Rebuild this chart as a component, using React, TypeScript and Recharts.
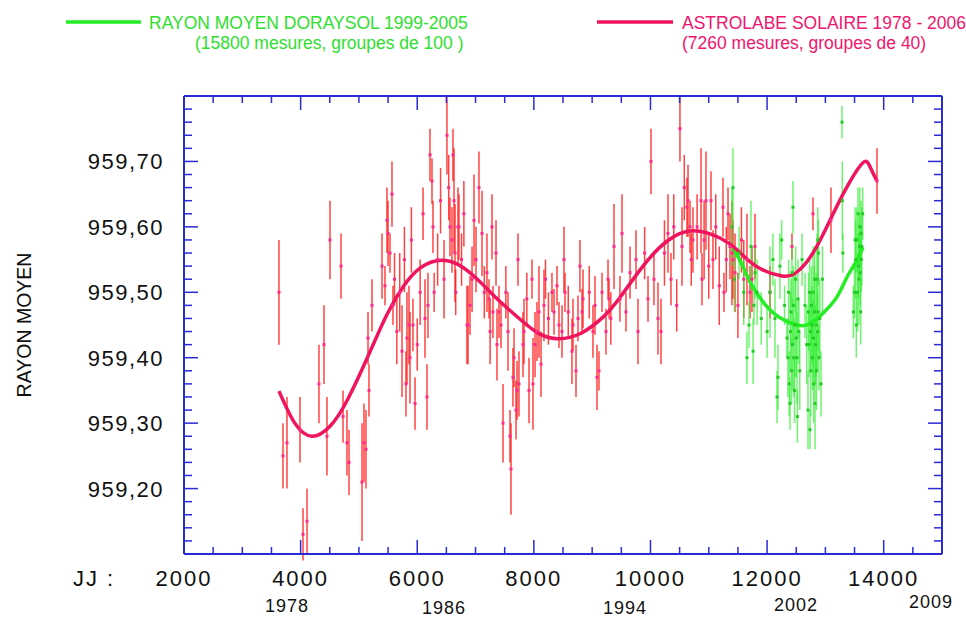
import React from 'react';
import { ComposedChart, Scatter, Line, XAxis, YAxis, ErrorBar } from 'recharts';

// ASTROLABE SOLAIRE 1978 - 2006 : [JJ, rayon moyen, demi-barre]
const astrolabe: [number, number, number][] = [
  [3629, 959.5, 0.08], [3698, 959.25, 0.05], [3766, 959.27, 0.07], [3989, 959.29, 0.05],
  [4041, 959.13, 0.04], [4110, 959.15, 0.05], [4315, 959.36, 0.06], [4401, 959.42, 0.06],
  [4452, 959.28, 0.06], [4504, 959.58, 0.06], [4693, 959.54, 0.05], [4727, 959.31, 0.04],
  [4795, 959.27, 0.05], [4830, 959.24, 0.05], [5053, 959.21, 0.09], [5087, 959.27, 0.06],
  [5121, 959.26, 0.06], [5156, 959.43, 0.04], [5173, 959.35, 0.04], [5224, 959.48, 0.04],
  [5396, 959.54, 0.05], [5447, 959.51, 0.03], [5481, 959.61, 0.05], [5499, 959.59, 0.05],
  [5533, 959.56, 0.03], [5567, 959.65, 0.05], [5584, 959.48, 0.03], [5610, 959.52, 0.04],
  [5650, 959.44, 0.05], [5700, 959.5, 0.06], [5739, 959.41, 0.07], [5780, 959.55, 0.05],
  [5807, 959.36, 0.05], [5824, 959.43, 0.07], [5859, 959.45, 0.06], [5876, 959.4, 0.07],
  [5900, 959.58, 0.05], [5927, 959.45, 0.04], [5962, 959.33, 0.04], [6000, 959.42, 0.04],
  [6050, 959.5, 0.05], [6100, 959.62, 0.04], [6133, 959.46, 0.06], [6167, 959.34, 0.05],
  [6185, 959.48, 0.05], [6219, 959.71, 0.04], [6253, 959.67, 0.035], [6270, 959.6, 0.04],
  [6290, 959.5, 0.03], [6350, 959.55, 0.04], [6400, 959.64, 0.05], [6460, 959.52, 0.06],
  [6510, 959.74, 0.06], [6540, 959.66, 0.05], [6562, 959.6, 0.045], [6596, 959.58, 0.05],
  [6613, 959.71, 0.04], [6631, 959.64, 0.08], [6648, 959.56, 0.075], [6660, 959.5, 0.035],
  [6699, 959.6, 0.06], [6716, 959.6, 0.05], [6760, 959.55, 0.04], [6800, 959.62, 0.05],
  [6853, 959.45, 0.06], [6871, 959.45, 0.06], [6905, 959.48, 0.045], [6940, 959.52, 0.05],
  [6974, 959.61, 0.07], [7008, 959.55, 0.05], [7059, 959.66, 0.055], [7111, 959.59, 0.065],
  [7150, 959.5, 0.04], [7196, 959.53, 0.06], [7231, 959.49, 0.03], [7250, 959.44, 0.05],
  [7282, 959.6, 0.05], [7299, 959.47, 0.04], [7351, 959.56, 0.05], [7368, 959.42, 0.055],
  [7402, 959.47, 0.04], [7437, 959.45, 0.035], [7471, 959.3, 0.06], [7520, 959.5, 0.04],
  [7557, 959.44, 0.06], [7591, 959.28, 0.04], [7608, 959.23, 0.07], [7642, 959.37, 0.045],
  [7660, 959.4, 0.045], [7694, 959.32, 0.045], [7711, 959.35, 0.045], [7728, 959.55, 0.04],
  [7745, 959.36, 0.05], [7814, 959.42, 0.05], [7831, 959.44, 0.05], [7880, 959.49, 0.04],
  [7917, 959.35, 0.05], [7968, 959.52, 0.03], [7985, 959.36, 0.07], [8020, 959.42, 0.05],
  [8054, 959.44, 0.045], [8088, 959.47, 0.07], [8123, 959.39, 0.05], [8174, 959.48, 0.055],
  [8200, 959.52, 0.03], [8250, 959.46, 0.04], [8311, 959.5, 0.03], [8346, 959.47, 0.035],
  [8397, 959.51, 0.03], [8431, 959.45, 0.035], [8483, 959.44, 0.04], [8517, 959.55, 0.05],
  [8534, 959.5, 0.03], [8590, 959.47, 0.04], [8654, 959.41, 0.05], [8671, 959.45, 0.04],
  [8723, 959.38, 0.04], [8757, 959.46, 0.035], [8791, 959.54, 0.04], [8826, 959.47, 0.035],
  [8843, 959.49, 0.045], [8950, 959.5, 0.04], [9014, 959.44, 0.04], [9049, 959.48, 0.045],
  [9083, 959.37, 0.05], [9117, 959.38, 0.03], [9169, 959.5, 0.03], [9237, 959.44, 0.035],
  [9272, 959.52, 0.03], [9289, 959.49, 0.03], [9320, 959.46, 0.04], [9375, 959.57, 0.065],
  [9477, 959.49, 0.035], [9512, 959.59, 0.06], [9580, 959.47, 0.03], [9650, 959.53, 0.04],
  [9752, 959.55, 0.045], [9786, 959.44, 0.05], [9900, 959.56, 0.04], [9958, 959.49, 0.035],
  [10009, 959.7, 0.05], [10060, 959.52, 0.04], [10129, 959.46, 0.055], [10181, 959.44, 0.05],
  [10240, 959.56, 0.05], [10301, 959.59, 0.06], [10352, 959.52, 0.04], [10400, 959.6, 0.05],
  [10450, 959.48, 0.04], [10506, 959.75, 0.05], [10541, 959.57, 0.06], [10580, 959.66, 0.05],
  [10626, 959.63, 0.045], [10644, 959.64, 0.055], [10678, 959.6, 0.04], [10700, 959.55, 0.04],
  [10729, 959.58, 0.05], [10800, 959.6, 0.05], [10867, 959.64, 0.08], [10884, 959.52, 0.04],
  [10920, 959.58, 0.06], [10952, 959.64, 0.075], [11000, 959.54, 0.05], [11038, 959.64, 0.045],
  [11072, 959.55, 0.045], [11120, 959.6, 0.05], [11180, 959.51, 0.06], [11244, 959.63, 0.045],
  [11261, 959.5, 0.03], [11300, 959.55, 0.05], [11330, 959.62, 0.04], [11364, 959.57, 0.05],
  [11398, 959.56, 0.08], [11415, 959.55, 0.06], [11450, 959.53, 0.06], [11500, 959.48, 0.05],
  [11560, 959.58, 0.05], [11600, 959.52, 0.06], [11655, 959.55, 0.07], [11707, 959.5, 0.04],
  [11741, 959.52, 0.05], [11793, 959.57, 0.05], [12050, 959.5, 0.04], [12427, 959.57, 0.02],
  [12787, 959.62, 0.025], [13096, 959.61, 0.05], [13885, 959.67, 0.05],
];

// RAYON MOYEN DORAYSOL 1999-2005 : [JJ, rayon moyen, demi-barre]
const doraysol: [number, number, number][] = [
  [11398, 959.6, 0.06], [11415, 959.66, 0.06], [11440, 959.52, 0.05], [11520, 959.56, 0.04],
  [11600, 959.5, 0.05], [11655, 959.4, 0.04], [11690, 959.45, 0.035], [11724, 959.57, 0.07],
  [11760, 959.41, 0.05], [11775, 959.48, 0.03], [11793, 959.53, 0.04], [11830, 959.5, 0.05],
  [11900, 959.46, 0.04], [12000, 959.44, 0.04], [12050, 959.5, 0.07], [12100, 959.55, 0.04],
  [12136, 959.46, 0.06], [12170, 959.34, 0.04], [12187, 959.37, 0.05], [12220, 959.54, 0.05],
  [12250, 959.58, 0.03], [12300, 959.48, 0.03], [12341, 959.43, 0.03], [12358, 959.4, 0.06],
  [12370, 959.5, 0.05], [12380, 959.36, 0.05], [12393, 959.33, 0.04], [12400, 959.44, 0.06],
  [12410, 959.47, 0.05], [12420, 959.38, 0.05], [12427, 959.53, 0.05], [12435, 959.42, 0.07],
  [12444, 959.63, 0.04], [12450, 959.48, 0.06], [12460, 959.4, 0.06], [12470, 959.35, 0.05],
  [12479, 959.45, 0.08], [12490, 959.52, 0.05], [12500, 959.43, 0.06], [12513, 959.4, 0.07],
  [12520, 959.31, 0.04], [12530, 959.49, 0.06], [12545, 959.44, 0.05], [12560, 959.38, 0.06],
  [12600, 959.55, 0.04], [12650, 959.48, 0.05], [12680, 959.42, 0.06], [12702, 959.32, 0.06],
  [12710, 959.47, 0.06], [12720, 959.42, 0.05], [12730, 959.5, 0.05], [12736, 959.29, 0.03],
  [12745, 959.44, 0.06], [12750, 959.38, 0.07], [12760, 959.48, 0.06], [12770, 959.45, 0.06],
  [12780, 959.4, 0.05], [12787, 959.5, 0.07], [12795, 959.43, 0.06], [12800, 959.36, 0.06],
  [12810, 959.47, 0.07], [12815, 959.52, 0.05], [12822, 959.33, 0.07], [12830, 959.42, 0.06],
  [12840, 959.45, 0.08], [12848, 959.38, 0.06], [12856, 959.52, 0.07], [12865, 959.44, 0.06],
  [12873, 959.47, 0.06], [12880, 959.56, 0.05], [12890, 959.4, 0.05], [12905, 959.46, 0.06],
  [12925, 959.36, 0.05], [12950, 959.52, 0.05], [12870, 959.58, 0.05], [13285, 959.76, 0.025],
  [13290, 959.64, 0.06], [13300, 959.56, 0.03], [13480, 959.47, 0.04], [13500, 959.5, 0.04],
  [13510, 959.58, 0.05], [13520, 959.55, 0.06], [13530, 959.45, 0.05], [13540, 959.58, 0.05],
  [13550, 959.5, 0.06], [13560, 959.62, 0.04], [13565, 959.54, 0.05], [13575, 959.52, 0.07],
  [13582, 959.57, 0.05], [13590, 959.6, 0.06], [13598, 959.53, 0.05], [13605, 959.47, 0.05],
  [13610, 959.59, 0.05], [13615, 959.55, 0.05], [13625, 959.57, 0.06], [13640, 959.62, 0.04],
];

// courbes d'ajustement : [JJ, rayon moyen]
const astrolabeFit: [number, number][] = [
  [3629, 959.349], [3900, 959.3], [4195, 959.28], [4500, 959.295], [4800, 959.335],
  [5190, 959.409], [5481, 959.466], [5756, 959.508], [6047, 959.537], [6425, 959.549],
  [6785, 959.538], [7100, 959.514], [7419, 959.486], [7814, 959.455], [8105, 959.436],
  [8414, 959.429], [8800, 959.437], [9186, 959.462], [9477, 959.492], [9872, 959.54],
  [10283, 959.578], [10729, 959.594], [11192, 959.583], [11484, 959.565], [11827, 959.539],
  [12256, 959.525], [12513, 959.531], [12787, 959.56], [13079, 959.61], [13370, 959.661],
  [13645, 959.698], [13765, 959.692], [13885, 959.67],
];

const doraysolFit: [number, number][] = [
  [11415, 959.569], [11587, 959.539], [11758, 959.508], [11998, 959.478], [12221, 959.461],
  [12513, 959.45], [12736, 959.452], [12959, 959.468], [13199, 959.493], [13370, 959.523],
  [13542, 959.549], [13645, 959.569],
];

const X_LABEL_TICKS = [2000, 4000, 6000, 8000, 10000, 12000, 14000];
const Y_LABEL_TICKS = [959.2, 959.3, 959.4, 959.5, 959.6, 959.7];
const YEAR_LABELS = [
  { text: '1978', x: 287, y: 612 },
  { text: '1986', x: 444, y: 614 },
  { text: '1994', x: 625, y: 614 },
  { text: '2002', x: 796, y: 611 },
  { text: '2009', x: 931, y: 608 },
];

const X_DOMAIN: [number, number] = [2000, 15000];
const Y_DOMAIN: [number, number] = [959.1, 959.8];
const xTicks = Array.from({ length: 27 }, (_, i) => X_DOMAIN[0] + i * 500);
const yTicks = Array.from({ length: 36 }, (_, i) => +(Y_DOMAIN[0] + i * 0.02).toFixed(2));

const AXIS = '#2a2ad6';
const FONT = '"Liberation Sans", Arial, sans-serif';
const PINK = '#f0145e';
const GREEN = '#22ee22';

const toPts = (a: [number, number, number][]) => a.map(([x, y, err]) => ({ x, y, err }));
const toLine = (a: [number, number][]) => a.map(([x, y]) => ({ x, y }));

const isMajorY = (v: number) => Math.abs(v * 10 - Math.round(v * 10)) < 1e-6;

const BottomTick = (p: any) => {
  const v = p.payload.value;
  const major = v % 2000 === 0;
  return (
    <g>
      <line x1={p.x} x2={p.x} y1={p.y} y2={p.y - (major ? 14 : 7)} stroke={AXIS} strokeWidth={1.5} />
      {X_LABEL_TICKS.includes(v) && (
        <text x={p.x} y={p.y + 32} textAnchor="middle" fontSize={22} letterSpacing={2} fill="#111" fontFamily={FONT}>
          {v}
        </text>
      )}
    </g>
  );
};

const TopTick = (p: any) => {
  const major = p.payload.value % 2000 === 0;
  return <line x1={p.x} x2={p.x} y1={p.y} y2={p.y + (major ? 14 : 7)} stroke={AXIS} strokeWidth={1.5} />;
};

const LeftTick = (p: any) => {
  const v = p.payload.value;
  const major = isMajorY(v);
  const labelled = Y_LABEL_TICKS.some((t) => Math.abs(t - v) < 1e-6);
  return (
    <g>
      <line x1={p.x} x2={p.x + (major ? 14 : 8)} y1={p.y} y2={p.y} stroke={AXIS} strokeWidth={1.5} />
      {labelled && (
        <text x={p.x - 20} y={p.y + 8} textAnchor="end" fontSize={22} letterSpacing={1.5} fill="#111" fontFamily={FONT}>
          {v.toFixed(2).replace('.', ',')}
        </text>
      )}
    </g>
  );
};

const RightTick = (p: any) => {
  const major = isMajorY(p.payload.value);
  return <line x1={p.x} x2={p.x - (major ? 14 : 8)} y1={p.y} y2={p.y} stroke={AXIS} strokeWidth={1.5} />;
};

const RedDot = (p: any) => <rect x={p.cx - 1.5} y={p.cy - 1.5} width={3} height={3} fill="#ff2a8a" />;
const GreenDot = (p: any) => <rect x={p.cx - 1.5} y={p.cy - 1.5} width={3} height={3} fill="#22cc22" />;

export default function App() {
  return (
    <div style={{ position: 'absolute', left: 0, top: 0, width: 966, height: 617, background: '#fff', fontFamily: FONT }}>
      <ComposedChart width={966} height={617} margin={{ top: 95, right: 23, bottom: 62, left: 0 }}>
        <XAxis
          xAxisId="b"
          dataKey="x"
          type="number"
          domain={X_DOMAIN}
          ticks={xTicks}
          interval={0}
          allowDataOverflow
          height={1}
          tickSize={0}
          tickMargin={0}
          tickLine={false}
          tick={BottomTick}
          axisLine={{ stroke: AXIS, strokeWidth: 2 }}
        />
        <XAxis
          xAxisId="t"
          orientation="top"
          dataKey="x"
          type="number"
          domain={X_DOMAIN}
          ticks={xTicks}
          interval={0}
          allowDataOverflow
          height={1}
          tickSize={0}
          tickMargin={0}
          tickLine={false}
          tick={TopTick}
          axisLine={{ stroke: AXIS, strokeWidth: 2 }}
        />
        <YAxis
          yAxisId="l"
          dataKey="y"
          type="number"
          domain={Y_DOMAIN}
          ticks={yTicks}
          interval={0}
          allowDataOverflow
          width={184}
          tickSize={0}
          tickMargin={0}
          tickLine={false}
          tick={LeftTick}
          axisLine={{ stroke: AXIS, strokeWidth: 2 }}
        />
        <YAxis
          yAxisId="r"
          orientation="right"
          dataKey="y"
          type="number"
          domain={Y_DOMAIN}
          ticks={yTicks}
          interval={0}
          allowDataOverflow
          width={1}
          tickSize={0}
          tickMargin={0}
          tickLine={false}
          tick={RightTick}
          axisLine={{ stroke: AXIS, strokeWidth: 2 }}
        />
        <Scatter xAxisId="b" yAxisId="l" data={toPts(astrolabe)} dataKey="y" shape={RedDot} isAnimationActive={false}>
          <ErrorBar dataKey="err" direction="y" width={0} stroke="#ff1a1a" strokeWidth={1.5} strokeOpacity={0.82} isAnimationActive={false} />
        </Scatter>
        <Scatter xAxisId="b" yAxisId="l" data={toPts(doraysol)} dataKey="y" shape={GreenDot} isAnimationActive={false}>
          <ErrorBar dataKey="err" direction="y" width={0} stroke="#33ee33" strokeWidth={1.5} strokeOpacity={0.7} isAnimationActive={false} />
        </Scatter>
        <Line xAxisId="b" yAxisId="l" data={toLine(doraysolFit)} dataKey="y" type="natural" stroke={GREEN} strokeWidth={3.5} dot={false} isAnimationActive={false} />
        <Line xAxisId="b" yAxisId="l" data={toLine(astrolabeFit)} dataKey="y" type="natural" stroke={PINK} strokeWidth={3.5} dot={false} isAnimationActive={false} />
      </ComposedChart>

      <svg width={966} height={617} style={{ position: 'absolute', left: 0, top: 0, pointerEvents: 'none' }} fontFamily={FONT}>
        <line x1={66} x2={141} y1={22} y2={22} stroke={GREEN} strokeWidth={3.5} />
        <text x={149} y={29} fontSize={17.5} fill="#2ee02e">RAYON MOYEN DORAYSOL 1999-2005</text>
        <text x={195} y={49} fontSize={17.5} fill="#2ee02e">(15800 mesures, groupes de 100 )</text>
        <line x1={597} x2={673} y1={22} y2={22} stroke={PINK} strokeWidth={3.5} />
        <text x={682} y={29} fontSize={17.5} fill="#f0146e">ASTROLABE SOLAIRE 1978 - 2006</text>
        <text x={682} y={49} fontSize={17.5} fill="#f0146e">(7260 mesures, groupes de 40)</text>

        <text x={73} y={586} fontSize={22} letterSpacing={2} fill="#111">JJ :</text>
        {YEAR_LABELS.map((d) => (
          <text key={d.text} x={d.x} y={d.y} textAnchor="middle" fontSize={18} letterSpacing={1} fill="#111">
            {d.text}
          </text>
        ))}
        <text
          x={24}
          y={325}
          transform="rotate(-90 24 325)"
          textAnchor="middle"
          dominantBaseline="central"
          fontSize={19.5}
          fill="#111"
        >
          RAYON MOYEN
        </text>
      </svg>
    </div>
  );
}
